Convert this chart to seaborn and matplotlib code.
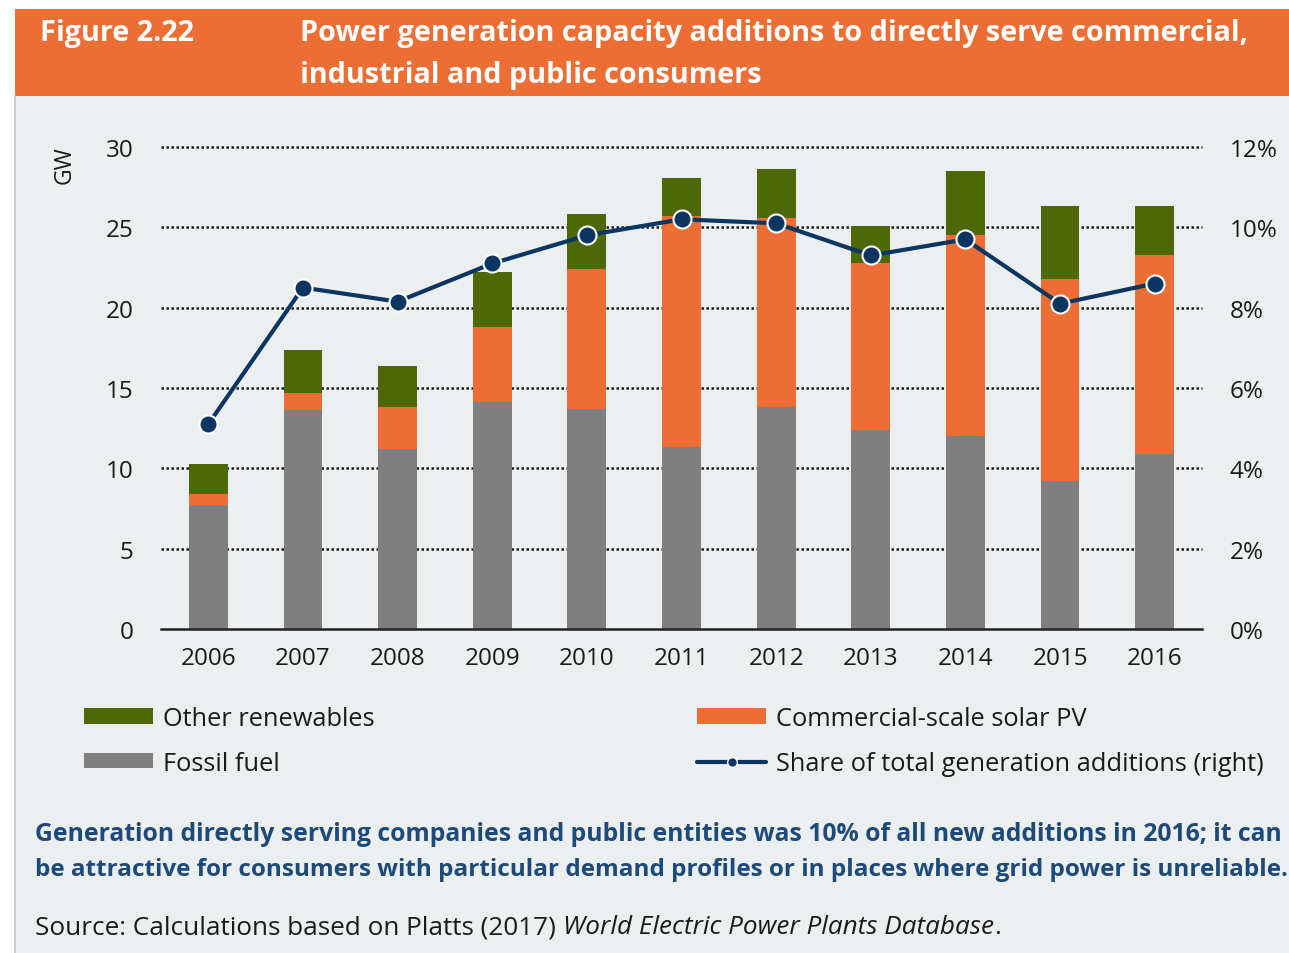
import numpy as np
import pandas as pd
import matplotlib
matplotlib.use("Agg")
import matplotlib.pyplot as plt
import seaborn as sns
from matplotlib.patches import Rectangle, Patch
from matplotlib.lines import Line2D

# ---------------- data ----------------
years = ['2006', '2007', '2008', '2009', '2010', '2011', '2012', '2013', '2014', '2015', '2016']
fossil = [7.7, 13.6, 11.2, 14.1, 13.7, 11.3, 13.8, 12.4, 12.0, 9.2, 10.9]
solar = [0.7, 1.1, 2.6, 4.7, 8.7, 14.4, 11.8, 10.4, 12.5, 12.6, 12.4]
other = [1.85, 2.65, 2.55, 3.45, 3.4, 2.35, 3.0, 2.3, 4.0, 4.55, 3.05]
share = [5.1, 8.5, 8.15, 9.1, 9.8, 10.2, 10.1, 9.3, 9.7, 8.1, 8.6]  # percent

left_ticks = [0, 5, 10, 15, 20, 25, 30]
right_ticks = [0, 2, 4, 6, 8, 10, 12]

# colours
C_GREEN = '#4E6709'
C_ORANGE = '#EC6E34'
C_GREY = '#7F7F7F'
C_NAVY = '#0C3661'
C_PANEL = '#ECEFF0'
C_CAPTION = '#1E4A7A'

sns.set_theme(style="white")
FONT = ['Open Sans', 'DejaVu Sans']
plt.rcParams['font.family'] = FONT

W, H = 1289, 954
fig = plt.figure(figsize=(W / 100, H / 100), dpi=100, facecolor='white')

# background panel & header
fig.patches.append(Rectangle((15 / W, 0), 1 - 15 / W, 1 - 97 / H, transform=fig.transFigure,
                             facecolor=C_PANEL, edgecolor='none', zorder=-2))
fig.patches.append(Rectangle((15 / W, 1 - 97 / H), 1 - 15 / W, 87 / H, transform=fig.transFigure,
                             facecolor=C_ORANGE, edgecolor='none', zorder=-2))
fig.lines.append(Line2D([15 / W, 15 / W], [0, 1 - 97 / H], transform=fig.transFigure,
                        color='#C9CDD0', lw=1.5, zorder=-1))

fig.text(40 / W, 1 - 34 / H, 'Figure 2.22', color='white', fontsize=20.8, fontweight='bold',
         va='center', ha='left')
fig.text(300 / W, 1 - 34 / H, 'Power generation capacity additions to directly serve commercial,',
         color='white', fontsize=20.8, fontweight='bold', va='center', ha='left')
fig.text(300 / W, 1 - 76 / H, 'industrial and public consumers',
         color='white', fontsize=20.8, fontweight='bold', va='center', ha='left')

# axes
ax = fig.add_axes([161 / W, 1 - 630 / H, (1202 - 161) / W, (630 - 148) / H])
ax.set_facecolor('none')

df = pd.DataFrame({'year': years, 'fossil': fossil, 'solar': solar, 'other': other})
df['solar_top'] = df['fossil'] + df['solar']
df['total'] = df['solar_top'] + df['other']

bw = 0.41
sns.barplot(data=df, x='year', y='total', color=C_GREEN, width=bw, saturation=1, ax=ax,
            edgecolor='none', zorder=3)
sns.barplot(data=df, x='year', y='solar_top', color=C_ORANGE, width=bw, saturation=1, ax=ax,
            edgecolor='none', zorder=3)
sns.barplot(data=df, x='year', y='fossil', color=C_GREY, width=bw, saturation=1, ax=ax,
            edgecolor='none', zorder=3)

ax.set_xlim(-0.5, len(years) - 0.5)
ax.set_ylim(0, 30)
ax.set_yticks(left_ticks)
ax.set_yticklabels([str(t) for t in left_ticks])
ax.set_xlabel('')
ax.set_ylabel('')
for v in left_ticks[1:]:
    ax.axhline(v, color='#1a1a1a', lw=1.8, ls=(0, (1, 1)), zorder=1, clip_on=False)
for s in ['top', 'left', 'right']:
    ax.spines[s].set_visible(False)
ax.spines['bottom'].set_color('#222222')
ax.spines['bottom'].set_linewidth(1.8)
ax.spines['bottom'].set_zorder(5)
ax.set_xticks(np.arange(-0.5, len(years), 1.0), minor=True)
ax.tick_params(axis='x', which='major', length=0, pad=12, labelsize=17.5, labelcolor='#1a1a1a')
ax.tick_params(axis='x', which='minor', length=7, width=1.8, color='#222222', direction='out')
ax.tick_params(axis='y', which='both', length=0, pad=20, labelsize=17.5, labelcolor='#1a1a1a')
ax.grid(False)

# right axis with line
ax2 = ax.twinx()
ax2.set_facecolor('none')
sns.lineplot(x=np.arange(len(years)), y=share, ax=ax2, color=C_NAVY, lw=3.0, marker='o',
             markersize=13, markerfacecolor=C_NAVY, markeredgecolor='white', markeredgewidth=1.5,
             zorder=10, legend=False)
ax2.set_ylim(0, 12)
ax2.set_yticks(right_ticks)
ax2.set_yticklabels([f'{t}%' for t in right_ticks])
ax2.tick_params(axis='y', length=0, pad=20, labelsize=17.5, labelcolor='#1a1a1a')
for s in ['top', 'left', 'right', 'bottom']:
    ax2.spines[s].set_visible(False)
ax2.grid(False)
ax2.set_xlim(-0.5, len(years) - 0.5)

fig.text(65 / W, 1 - 165 / H, 'GW', rotation=90, fontsize=16.5, color='#1a1a1a',
         ha='center', va='center')

# legend
handles = [
    Patch(facecolor=C_GREEN, edgecolor='none', label='Other renewables'),
    Patch(facecolor=C_GREY, edgecolor='none', label='Fossil fuel'),
    Patch(facecolor=C_ORANGE, edgecolor='none', label='Commercial-scale solar PV'),
    Line2D([], [], color=C_NAVY, lw=3, marker='o', markersize=7, markerfacecolor=C_NAVY,
           markeredgecolor='white', markeredgewidth=1, label='Share of total generation additions (right)'),
]
fig.legend(handles=handles, ncol=2, loc='upper left', bbox_to_anchor=(84 / W, 1 - 707 / H),
           frameon=False, fontsize=18.3, handlelength=2.7, handleheight=0.55, handletextpad=0.4,
           labelspacing=0.78, columnspacing=12.7, labelcolor='#1a1a1a', borderaxespad=0,
           borderpad=0)

# caption
fig.text(35 / W, 1 - 835 / H,
         'Generation directly serving companies and public entities was 10% of all new additions in 2016; it can',
         color=C_CAPTION, fontsize=17.8, fontweight='bold', ha='left', va='center')
fig.text(35 / W, 1 - 870 / H,
         'be attractive for consumers with particular demand profiles or in places where grid power is unreliable.',
         color=C_CAPTION, fontsize=17.5, fontweight='bold', ha='left', va='center')

SRC = 18.8
t1 = fig.text(35 / W, 1 - 928 / H, 'Source: Calculations based on Platts (2017) ',
              color='#1a1a1a', fontsize=SRC, ha='left', va='center')
fig.canvas.draw()
bb = t1.get_window_extent(renderer=fig.canvas.get_renderer())
t2 = fig.text(bb.x1 / W, 1 - 928 / H, 'World Electric Power Plants Database',
              color='#1a1a1a', fontsize=SRC, style='italic', ha='left', va='center')
fig.canvas.draw()
bb2 = t2.get_window_extent(renderer=fig.canvas.get_renderer())
fig.text(bb2.x1 / W, 1 - 928 / H, '.', color='#1a1a1a', fontsize=SRC, ha='left', va='center')

fig.savefig('out.png', dpi=100, facecolor=fig.get_facecolor())
